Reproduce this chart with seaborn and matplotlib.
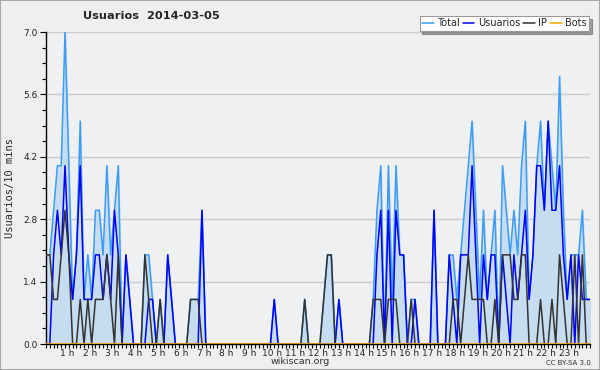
import numpy as np
import pandas as pd
import matplotlib
matplotlib.use('Agg')
import matplotlib.pyplot as plt
import matplotlib.transforms as mtransforms
import seaborn as sns
from matplotlib.ticker import MultipleLocator

# 10-minute slots, 144 per day
usuarios = [0, 0, 2, 3, 2, 4, 2, 1, 2, 4, 1, 1, 1, 2, 2, 1, 2, 1, 3, 2, 0, 2, 1, 0,
            0, 0, 0, 1, 1, 0, 0, 0, 2, 1, 0, 0, 0, 0, 0, 0, 0, 3, 0, 0,
            0, 0, 0, 0, 0, 0, 0, 0, 0, 0, 0, 0, 0, 0, 0, 0, 1, 0, 0, 0,
            0, 0, 0, 0, 0, 0, 0, 0, 0, 0, 0, 0, 0, 1, 0, 0, 0, 0, 0, 0,
            0, 0, 0, 2, 3, 0, 3, 0, 3, 2, 2, 0, 0, 1, 0, 0, 0, 0, 3, 0,
            0, 0, 2, 1, 0, 2, 2, 2, 4, 2, 0, 2, 1, 2, 2, 0, 2, 1, 0, 2,
            1, 2, 3, 1, 2, 4, 4, 3, 5, 3, 3, 4, 2, 1, 2, 0, 2, 1, 1, 1]
ip = [2, 2, 1, 1, 2, 3, 2, 0, 0, 1, 0, 1, 0, 1, 1, 1, 2, 1, 0, 2, 0, 0, 0, 0,
      0, 0, 2, 1, 0, 0, 1, 0, 0, 0, 0, 0, 0, 0, 1, 1, 1, 0, 0, 0,
      0, 0, 0, 0, 0, 0, 0, 0, 0, 0, 0, 0, 0, 0, 0, 0, 0, 0, 0, 0,
      0, 0, 0, 0, 1, 0, 0, 0, 0, 1, 2, 2, 0, 0, 0, 0, 0, 0, 0, 0,
      0, 0, 1, 1, 1, 0, 1, 1, 1, 0, 0, 0, 1, 0, 0, 0, 0, 0, 0, 0,
      0, 0, 0, 1, 1, 0, 1, 2, 1, 1, 1, 1, 0, 0, 1, 0, 2, 2, 2, 1,
      1, 2, 2, 0, 0, 0, 1, 0, 0, 1, 0, 2, 1, 0, 0, 2, 0, 2, 0, 0]
bots = [0] * 144
total = [u + i + b for u, i, b in zip(usuarios, ip, bots)]

hour_labels = [f"{h} h" for h in range(1, 24)]
y_ticks = [0.0, 1.4, 2.8, 4.2, 5.6, 7.0]

df = pd.DataFrame({
    "hora": np.arange(144) / 6.0,
    "Total": total,
    "Usuarios": usuarios,
    "IP": ip,
    "Bots": bots,
})

sns.set_style("white")
plt.rcParams['font.family'] = ['DejaVu Sans']

fig = plt.figure(figsize=(6, 3.7), dpi=100, facecolor="#efefef")
ax = fig.add_axes([46 / 600, 26 / 370, 544 / 600, 312 / 370])
ax.set_facecolor("#eef0f2")

ax.fill_between(df["hora"], df["Total"], color="#c6dcf0", zorder=1)
colores = {"Total": "#3d9cf5", "Usuarios": "#0000ff", "IP": "#333333", "Bots": "#ffa500"}
for serie in ["Total", "Usuarios", "IP", "Bots"]:
    sns.lineplot(data=df, x="hora", y=serie, ax=ax, color=colores[serie],
                 linewidth=1.1, label=serie, legend=False, zorder=3)

ax.set_xlim(0, 143 / 6)
ax.set_ylim(0, 7)
ax.set_yticks(y_ticks)
ax.set_yticklabels([f"{v:.1f}" for v in y_ticks], fontsize=6.5)
ax.yaxis.set_minor_locator(MultipleLocator(0.35))
ax.set_xticks(range(1, 24))
ax.set_xticklabels(hour_labels, fontsize=6.5)
ax.xaxis.set_minor_locator(MultipleLocator(1 / 6))
ax.tick_params(axis="y", which="major", direction="out", length=4, width=0.8, color="black", pad=2)
ax.tick_params(axis="y", which="minor", direction="out", length=3, width=0.8, color="black")
ax.tick_params(axis="x", which="both", direction="out", length=3, width=0.8, color="black", pad=0.5)
ax.tick_params(axis="x", which="both", bottom=True)
ax.tick_params(axis="y", which="both", left=True)
# etiquetas de hora un poco a la izquierda de la marca
shift = mtransforms.ScaledTranslation(-2 / 100, 0, fig.dpi_scale_trans)
for lbl in ax.get_xticklabels():
    lbl.set_transform(lbl.get_transform() + shift)
ax.grid(axis="y", color="#cccccc", linewidth=1, zorder=0)
ax.set_axisbelow(True)
for s in ["top", "right"]:
    ax.spines[s].set_visible(False)
for s in ["left", "bottom"]:
    ax.spines[s].set_color("black")
    ax.spines[s].set_linewidth(1)
ax.set_xlabel("")
ax.set_ylabel("Usuarios/10 mins", fontsize=7.5, family="DejaVu Sans Mono", labelpad=6)

fig.text(151 / 600, 1 - 16 / 370, "Usuarios  2014-03-05", fontsize=8.2, fontweight="bold",
         ha="center", va="center")
fig.text(300 / 600, 1 - 362 / 370, "wikiscan.org", fontsize=6.8, ha="center", va="center", color="#333333")
fig.text(568 / 600, 1 - 363 / 370, "CC BY-SA 3.0", fontsize=5, ha="center", va="center", color="#333333")

handles, labels = ax.get_legend_handles_labels()
leg = fig.legend(handles, labels, ncol=4, loc="upper right", bbox_to_anchor=(589 / 600, 1 - 16 / 370),
                 fontsize=7, frameon=True, fancybox=False, shadow=True, handlelength=1.2,
                 handletextpad=0.35, columnspacing=0.3, borderpad=0.25, borderaxespad=0)
leg.get_frame().set_edgecolor("#999999")
leg.get_frame().set_linewidth(0.8)

# marco exterior
fig.patches.append(plt.Rectangle((0, 0), 1, 1, transform=fig.transFigure, fill=False,
                                 edgecolor="#aaaaaa", linewidth=1.5))

fig.savefig("out.png", dpi=100, facecolor=fig.get_facecolor())
